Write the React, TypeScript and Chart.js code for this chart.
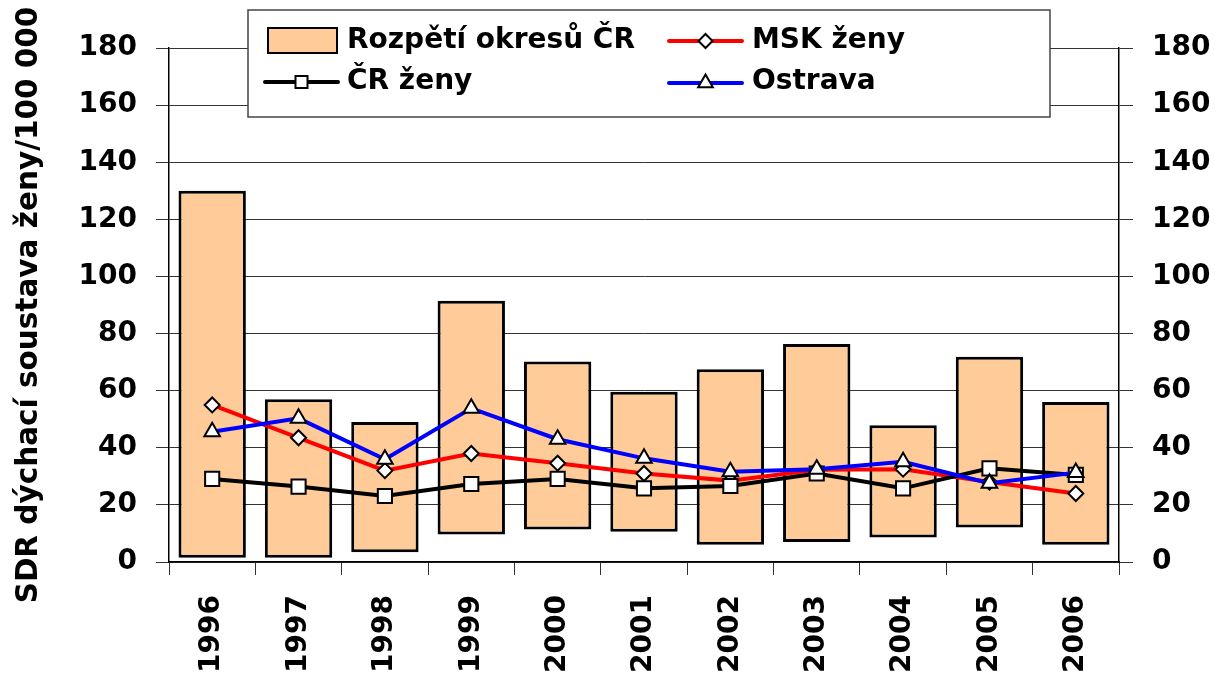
import { useEffect, useRef } from 'react';
import { Chart, registerables } from 'chart.js';

Chart.register(...registerables);

// ---- data ----
const YEARS = ['1996', '1997', '1998', '1999', '2000', '2001', '2002', '2003', '2004', '2005', '2006'];
const RANGE_MIN = [1.5, 1.5, 3.4, 9.6, 11.4, 10.6, 6.0, 7.0, 8.6, 12.1, 6.0];
const RANGE_MAX = [130, 57, 49, 91.5, 70.2, 59.6, 67.5, 76.3, 47.9, 71.9, 56];
const MSK_ZENY = [55, 43.5, 32, 38, 34.6, 31, 28.5, 32.3, 32.5, 28, 24];
const CR_ZENY = [29.1, 26.4, 23.1, 27.3, 29.1, 25.8, 26.6, 31, 25.8, 32.8, 30.5];
const OSTRAVA = [45.6, 50.3, 36, 53.8, 43, 36.3, 31.6, 32.5, 35.1, 27.6, 31.3];

const Y_MIN = 0;
const Y_MAX = 180;
const Y_STEP = 20;

const LABEL_RANGE = 'Rozpětí okresů ČR';
const LABEL_MSK = 'MSK ženy';
const LABEL_CR = 'ČR ženy';
const LABEL_OSTRAVA = 'Ostrava';
const Y_TITLE = 'SDR dýchací soustava ženy/100 000';

const FONT_FAMILY = '"DejaVu Sans", sans-serif';

function drawMarker(ctx: CanvasRenderingContext2D, style: string, x: number, y: number, s: number) {
  ctx.beginPath();
  if (style === 'rect') {
    ctx.rect(x - s, y - s, 2 * s, 2 * s);
  } else if (style === 'rectRot') {
    ctx.moveTo(x, y - s);
    ctx.lineTo(x + s, y);
    ctx.lineTo(x, y + s);
    ctx.lineTo(x - s, y);
    ctx.closePath();
  } else {
    ctx.moveTo(x, y - s);
    ctx.lineTo(x + s * 0.866, y + s * 0.5);
    ctx.lineTo(x - s * 0.866, y + s * 0.5);
    ctx.closePath();
  }
  ctx.fillStyle = '#fff';
  ctx.fill();
  ctx.lineWidth = 2;
  ctx.strokeStyle = '#000';
  ctx.stroke();
}

const boxLegend = {
  id: 'boxLegend',
  afterDraw(chart: any) {
    const ctx: CanvasRenderingContext2D = chart.ctx;
    const ds = chart.data.datasets;
    ctx.save();
    const x0 = 248, y0 = 10, x1 = 1050, y1 = 117;
    ctx.fillStyle = '#fff';
    ctx.fillRect(x0, y0, x1 - x0, y1 - y0);
    ctx.strokeStyle = '#444';
    ctx.lineWidth = 1.5;
    ctx.strokeRect(x0, y0, x1 - x0, y1 - y0);

    const rows = [41, 82];
    const cols = [{ s: 265, e: 338, t: 347 }, { s: 669, e: 742, t: 752 }];

    // bar swatch
    ctx.fillStyle = ds[0].backgroundColor;
    ctx.fillRect(268, 28, 69, 25);
    ctx.strokeStyle = '#000';
    ctx.lineWidth = 2;
    ctx.strokeRect(268, 28, 69, 25);

    const lineItem = (d: any, c: any, y: number, size: number) => {
      ctx.strokeStyle = d.borderColor;
      ctx.lineWidth = 4;
      ctx.lineCap = 'round';
      ctx.beginPath();
      ctx.moveTo(c.s, y);
      ctx.lineTo(c.e, y);
      ctx.stroke();
      ctx.lineCap = 'butt';
      drawMarker(ctx, d.pointStyle, (c.s + c.e) / 2, y, size);
    };
    lineItem(ds[1], cols[1], rows[0], 7);
    lineItem(ds[2], cols[0], rows[1], 6);
    lineItem(ds[3], cols[1], rows[1] + 1, 8.5);

    ctx.fillStyle = '#000';
    ctx.font = `bold 28px ${FONT_FAMILY}`;
    ctx.textBaseline = 'middle';
    ctx.textAlign = 'left';
    ctx.fillText(ds[0].label, cols[0].t, rows[0]);
    ctx.fillText(ds[1].label, cols[1].t, rows[0]);
    ctx.fillText(ds[2].label, cols[0].t, rows[1]);
    ctx.fillText(ds[3].label, cols[1].t, rows[1]);
    ctx.restore();
  },
};

export default function App() {
  const ref = useRef<HTMLCanvasElement>(null);

  useEffect(() => {
    document.body.style.margin = '0';
    if (!ref.current) return;
    Chart.defaults.font.family = FONT_FAMILY;
    Chart.defaults.color = '#000';

    const tickFont = { size: 28, weight: 'bold' as const, family: FONT_FAMILY };

    const chart = new Chart(ref.current, {
      type: 'bar',
      data: {
        labels: YEARS,
        datasets: [
          {
            type: 'bar',
            label: LABEL_RANGE,
            data: RANGE_MIN.map((m, i) => [m, RANGE_MAX[i]]) as any,
            backgroundColor: '#FFCC99',
            borderColor: '#000',
            borderWidth: 3,
            borderSkipped: false,
            barPercentage: 0.78,
            categoryPercentage: 1,
            yAxisID: 'y',
            order: 4,
          } as any,
          {
            type: 'line',
            label: LABEL_MSK,
            data: MSK_ZENY,
            borderColor: '#FF0000',
            borderWidth: 4,
            pointStyle: 'rectRot',
            pointRadius: 7.5,
            pointBackgroundColor: '#fff',
            pointBorderColor: '#000',
            pointBorderWidth: 2,
            tension: 0,
            yAxisID: 'y',
            order: 3,
          } as any,
          {
            type: 'line',
            label: LABEL_CR,
            data: CR_ZENY,
            borderColor: '#000',
            borderWidth: 4,
            pointStyle: 'rect',
            pointRadius: 10,
            pointBackgroundColor: '#fff',
            pointBorderColor: '#000',
            pointBorderWidth: 2,
            tension: 0,
            yAxisID: 'y',
            order: 2,
          } as any,
          {
            type: 'line',
            label: LABEL_OSTRAVA,
            data: OSTRAVA,
            borderColor: '#0000FF',
            borderWidth: 4,
            pointStyle: 'triangle',
            pointRadius: 9,
            pointBackgroundColor: '#fff',
            pointBorderColor: '#000',
            pointBorderWidth: 2,
            tension: 0,
            yAxisID: 'y',
            order: 1,
          } as any,
        ],
      },
      options: {
        responsive: false,
        devicePixelRatio: 1,
        animation: false,
        layout: { padding: { top: 48, left: 0, right: 0, bottom: 0 } },
        plugins: {
          legend: { display: false },
          tooltip: { enabled: false },
        },
        scales: {
          x: {
            type: 'category',
            offset: true,
            afterFit: (s: any) => { s.height = 113; },
            grid: { offset: true, drawOnChartArea: false, drawTicks: true, tickLength: 13, color: '#333', lineWidth: 1 },
            border: { display: true, color: '#000', width: 1.5 },
            ticks: { font: tickFont, color: '#000', minRotation: 90, maxRotation: 90, padding: 20, autoSkip: false },
          },
          y: {
            position: 'left',
            min: Y_MIN,
            max: Y_MAX,
            afterFit: (s: any) => { s.width = 169; },
            grid: { color: '#333', lineWidth: 1, tickLength: 13 },
            border: { display: true, color: '#000', width: 1.5 },
            ticks: { stepSize: Y_STEP, font: tickFont, color: '#000', padding: 19 },
            title: {
              display: true,
              text: Y_TITLE,
              font: { size: 29.5, weight: 'bold', family: FONT_FAMILY },
              color: '#000',
              padding: { top: 12, bottom: 0 },
            },
          },
          y2: {
            position: 'right',
            min: Y_MIN,
            max: Y_MAX,
            afterFit: (s: any) => { s.width = 96; },
            grid: { drawOnChartArea: false, color: '#333', lineWidth: 1, tickLength: 14 },
            border: { display: true, color: '#000', width: 1.5 },
            ticks: { stepSize: Y_STEP, font: tickFont, color: '#000', padding: 19 },
          },
        },
      } as any,
      plugins: [boxLegend],
    });

    return () => chart.destroy();
  }, []);

  return (
    <div style={{ width: 1215, height: 675, background: '#fff' }}>
      <canvas ref={ref} width={1215} height={675} style={{ display: 'block' }} />
    </div>
  );
}
